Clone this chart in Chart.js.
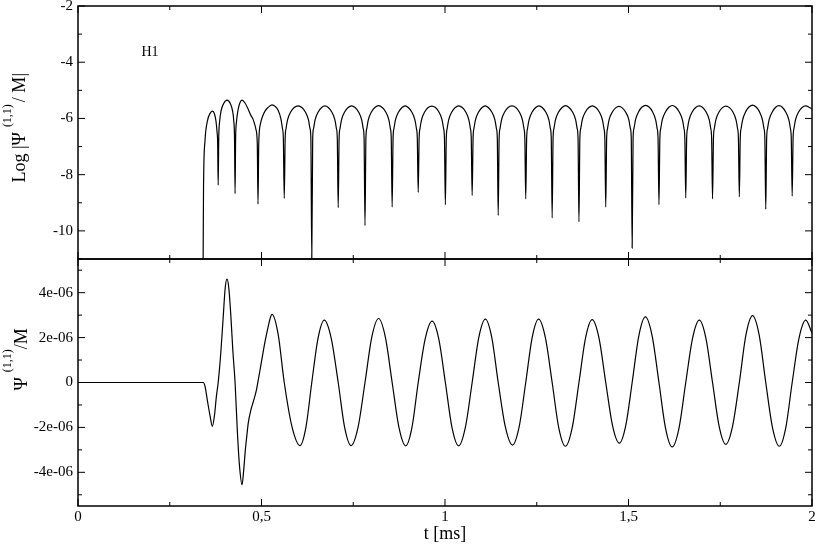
<!DOCTYPE html>
<html><head><meta charset="utf-8">
<script src="https://cdn.jsdelivr.net/npm/chart.js@4.4.1/dist/chart.umd.min.js"></script>
<style>html,body{margin:0;padding:0;background:#fff;}#wrap{width:817px;height:545px;}</style>
</head><body><div id="wrap"><canvas id="c" width="817" height="545"></canvas></div>
<script>
// ---------- data ----------
const xTickValues = [0, 0.5, 1, 1.5, 2];
const xTickLabels = ['0', '0,5', '1', '1,5', '2'];
const xMinorTicks = [0.25, 0.75, 1.25, 1.75];

const logTickValues = [-10, -8, -6, -4, -2];
const logTickLabels = ['-10', '-8', '-6', '-4', '-2'];
const logMinorTicks = [-11, -9, -7, -5, -3];

const psiTickValues = [-4e-6, -2e-6, 0, 2e-6, 4e-6];
const psiTickLabels = ['-4e-06', '-2e-06', '0', '2e-06', '4e-06'];
const psiMinorTicks = [-5e-6, -3e-6, -1e-6, 1e-6, 3e-6, 5e-6];

const panelLabel = 'H1';
const panelLabelAt = [0.196, -3.66];

// top panel: [t (ms), log10 |Psi/M|]
const logCurve = [
 [0.341,-11],[0.342,-8.5],[0.346,-6.8],[0.353,-6.07],[0.360,-5.82],[0.366,-5.74],[0.372,-5.84],[0.376,-6.1],[0.379,-6.5],[0.3805,-6.85],[0.382,-8.37],
 [0.3835,-6.7],[0.386,-6.1],[0.390,-5.72],[0.397,-5.47],[0.406,-5.35],[0.415,-5.47],[0.421,-5.72],[0.4245,-6.1],[0.4265,-6.7],[0.428,-8.67],
 [0.4295,-6.7],[0.432,-6.1],[0.436,-5.7],[0.441,-5.45],[0.447,-5.35],[0.455,-5.45],[0.464,-5.68],[0.4715,-5.9],[0.4777,-6.05],[0.485,-6.4],[0.4885,-6.9],[0.4905,-9.05],
 [0.4925,-6.9],[0.497,-6.2],[0.503,-5.92],[0.510,-5.73],[0.517,-5.62],[0.5286,-5.52],[0.538,-5.58],[0.545,-5.7],[0.553,-6.02],[0.557,-6.35],[0.5595,-6.7],[0.562,-8.84],
 [0.5645,-6.7],[0.567,-6.35],[0.571,-6.05],[0.580,-5.76],[0.589,-5.61],[0.600,-5.55],[0.610,-5.61],[0.619,-5.76],[0.628,-6.05],[0.632,-6.35],[0.6345,-6.7],[0.637,-11],
 [0.6395,-6.7],[0.642,-6.35],[0.646,-6.05],[0.655,-5.76],[0.664,-5.61],[0.673,-5.555],[0.682,-5.61],[0.691,-5.76],[0.700,-6.05],[0.704,-6.35],[0.7065,-6.7],[0.709,-9.17],
 [0.7115,-6.7],[0.714,-6.35],[0.718,-6.05],[0.727,-5.76],[0.736,-5.61],[0.7455,-5.55],[0.755,-5.61],[0.764,-5.76],[0.773,-6.05],[0.777,-6.35],[0.7795,-6.7],[0.782,-9.81],
 [0.7845,-6.7],[0.787,-6.35],[0.791,-6.05],[0.800,-5.76],[0.809,-5.61],[0.819,-5.545],[0.829,-5.61],[0.838,-5.76],[0.847,-6.05],[0.851,-6.35],[0.8535,-6.7],[0.856,-9.15],
 [0.8585,-6.7],[0.861,-6.35],[0.865,-6.05],[0.874,-5.76],[0.883,-5.61],[0.8915,-5.55],[0.900,-5.61],[0.909,-5.76],[0.918,-6.05],[0.922,-6.35],[0.9245,-6.7],[0.927,-8.63],
 [0.9295,-6.7],[0.932,-6.35],[0.936,-6.05],[0.945,-5.76],[0.954,-5.61],[0.964,-5.56],[0.974,-5.61],[0.983,-5.76],[0.992,-6.05],[0.996,-6.35],[0.9985,-6.7],[1.001,-9.07],
 [1.0035,-6.7],[1.006,-6.35],[1.010,-6.05],[1.019,-5.76],[1.028,-5.61],[1.0375,-5.55],[1.047,-5.61],[1.056,-5.76],[1.065,-6.05],[1.069,-6.35],[1.0715,-6.7],[1.074,-8.74],
 [1.0765,-6.7],[1.079,-6.35],[1.083,-6.05],[1.092,-5.76],[1.101,-5.61],[1.1095,-5.55],[1.118,-5.61],[1.127,-5.76],[1.136,-6.05],[1.140,-6.35],[1.1425,-6.7],[1.145,-9.45],
 [1.1475,-6.7],[1.150,-6.35],[1.154,-6.05],[1.163,-5.76],[1.172,-5.61],[1.1825,-5.555],[1.193,-5.61],[1.202,-5.76],[1.211,-6.05],[1.215,-6.35],[1.2175,-6.7],[1.220,-8.86],
 [1.2225,-6.7],[1.225,-6.35],[1.229,-6.05],[1.238,-5.76],[1.247,-5.61],[1.256,-5.55],[1.265,-5.61],[1.274,-5.76],[1.283,-6.05],[1.287,-6.35],[1.2895,-6.7],[1.292,-9.54],
 [1.2945,-6.7],[1.297,-6.35],[1.301,-6.05],[1.310,-5.76],[1.319,-5.61],[1.3285,-5.545],[1.338,-5.61],[1.347,-5.76],[1.356,-6.05],[1.360,-6.35],[1.3625,-6.7],[1.365,-9.68],
 [1.3675,-6.7],[1.370,-6.35],[1.374,-6.05],[1.383,-5.76],[1.392,-5.61],[1.4015,-5.55],[1.411,-5.61],[1.420,-5.76],[1.429,-6.05],[1.433,-6.35],[1.4355,-6.7],[1.438,-9.15],
 [1.4405,-6.7],[1.443,-6.35],[1.447,-6.05],[1.456,-5.77],[1.465,-5.625],[1.474,-5.57],[1.483,-5.625],[1.492,-5.77],[1.501,-6.05],[1.505,-6.35],[1.5075,-6.7],[1.510,-10.61],
 [1.5125,-6.7],[1.515,-6.35],[1.519,-6.05],[1.528,-5.75],[1.537,-5.595],[1.5465,-5.535],[1.556,-5.595],[1.565,-5.75],[1.574,-6.05],[1.578,-6.35],[1.5805,-6.7],[1.583,-9.07],
 [1.5855,-6.7],[1.588,-6.35],[1.592,-6.05],[1.601,-5.76],[1.610,-5.6],[1.6195,-5.54],[1.629,-5.6],[1.638,-5.76],[1.647,-6.05],[1.651,-6.35],[1.6535,-6.7],[1.656,-8.83],
 [1.6585,-6.7],[1.661,-6.35],[1.665,-6.05],[1.674,-5.76],[1.683,-5.61],[1.6925,-5.555],[1.702,-5.61],[1.711,-5.76],[1.720,-6.05],[1.724,-6.35],[1.7265,-6.7],[1.729,-8.86],
 [1.7315,-6.7],[1.734,-6.35],[1.738,-6.05],[1.747,-5.76],[1.756,-5.615],[1.7655,-5.56],[1.775,-5.615],[1.784,-5.76],[1.793,-6.05],[1.797,-6.35],[1.7995,-6.7],[1.802,-8.79],
 [1.8045,-6.7],[1.807,-6.35],[1.811,-6.05],[1.820,-5.74],[1.829,-5.585],[1.838,-5.525],[1.847,-5.585],[1.856,-5.74],[1.865,-6.05],[1.869,-6.35],[1.8715,-6.7],[1.874,-9.23],
 [1.8765,-6.7],[1.879,-6.35],[1.883,-6.05],[1.892,-5.76],[1.901,-5.6],[1.910,-5.545],[1.919,-5.6],[1.928,-5.76],[1.937,-6.05],[1.941,-6.35],[1.9435,-6.7],[1.946,-8.76],
 [1.9485,-6.7],[1.951,-6.35],[1.955,-6.05],[1.964,-5.76],[1.973,-5.61],[1.983,-5.555],[1.992,-5.6],[2.0,-5.66]
];

// bottom panel: [t (ms), Psi/M]
const psiCurve = [
 [0,0],[0.341,0],[0.346,-0.16e-6],[0.353,-0.85e-6],[0.360,-1.5e-6],[0.366,-1.95e-6],[0.372,-1.45e-6],[0.377,-0.63e-6],[0.382,0],
 [0.389,1.3e-6],[0.396,3.0e-6],[0.401,4.2e-6],[0.406,4.6e-6],[0.411,4.2e-6],[0.416,3.1e-6],[0.422,1.4e-6],[0.428,0],
 [0.434,-2.1e-6],[0.440,-3.7e-6],[0.447,-4.55e-6],[0.4515,-3.9e-6],[0.456,-3.0e-6],[0.4605,-2.3e-6],[0.464,-1.8e-6],[0.4715,-1.2e-6],[0.4777,-0.85e-6],[0.485,-0.42e-6],[0.4905,0.05e-6],
 [0.497,0.65e-6],[0.503,1.22e-6],[0.510,1.85e-6],[0.517,2.4e-6],[0.5235,2.85e-6],[0.5286,3.03e-6],
 [0.5453,2.15e-6],[0.562,0],[0.5835,-2.0e-6],[0.605,-2.81e-6],[0.621,-2.0e-6],[0.637,0],
 [0.654,1.97e-6],[0.671,2.78e-6],[0.690,1.97e-6],[0.709,0],[0.7265,-2.0e-6],[0.744,-2.81e-6],[0.763,-2.0e-6],[0.782,0],
 [0.8005,2.02e-6],[0.819,2.85e-6],[0.8375,2.02e-6],[0.856,0],[0.8745,-2.0e-6],[0.893,-2.82e-6],[0.910,-2.0e-6],[0.927,0],
 [0.946,1.94e-6],[0.965,2.73e-6],[0.983,1.94e-6],[1.001,0],[1.019,-2.0e-6],[1.037,-2.82e-6],[1.0555,-2.0e-6],[1.074,0],
 [1.092,2.0e-6],[1.110,2.82e-6],[1.1275,2.0e-6],[1.145,0],[1.1645,-1.98e-6],[1.184,-2.79e-6],[1.202,-1.98e-6],[1.220,0],
 [1.2375,2.0e-6],[1.255,2.82e-6],[1.2735,2.0e-6],[1.292,0],[1.310,-2.02e-6],[1.328,-2.84e-6],[1.3465,-2.02e-6],[1.365,0],
 [1.383,1.99e-6],[1.401,2.80e-6],[1.4195,1.99e-6],[1.438,0],[1.4565,-1.92e-6],[1.475,-2.70e-6],[1.4925,-1.92e-6],[1.510,0],
 [1.528,2.07e-6],[1.546,2.92e-6],[1.5645,2.07e-6],[1.583,0],[1.601,-2.04e-6],[1.619,-2.87e-6],[1.6375,-2.04e-6],[1.656,0],
 [1.6745,1.97e-6],[1.693,2.78e-6],[1.711,1.97e-6],[1.729,0],[1.747,-1.95e-6],[1.765,-2.75e-6],[1.7835,-1.95e-6],[1.802,0],
 [1.820,2.12e-6],[1.838,2.98e-6],[1.856,2.12e-6],[1.874,0],[1.8925,-2.02e-6],[1.911,-2.84e-6],[1.9285,-2.02e-6],[1.946,0],
 [1.9645,1.97e-6],[1.983,2.78e-6],[2.0,2.2e-6]
];

// ---------- drawing ----------
const FONT = "'Liberation Serif', 'Times New Roman', serif";
Chart.defaults.font.family = FONT;
Chart.defaults.color = '#000';

function drawRotated(ctx, x, y, parts) {
  ctx.save();
  ctx.translate(x, y);
  ctx.rotate(-Math.PI / 2);
  ctx.textAlign = 'left';
  ctx.textBaseline = 'alphabetic';
  ctx.fillStyle = '#000';
  let adv = 0;
  for (const p of parts) {
    ctx.font = p.size + 'px ' + FONT;
    adv += p.gap || 0;
    ctx.fillText(p.text, adv, -(p.raise || 0));
    adv += ctx.measureText(p.text).width;
  }
  ctx.restore();
}

const framePlugin = {
  id: 'frame',
  afterDraw(chart) {
    const {ctx, chartArea: ca, scales} = chart;
    const xs = scales.x;
    const MAJ = 7, MIN = 4;
    ctx.save();
    ctx.strokeStyle = '#000';
    const seg = (x1, y1, x2, y2) => { ctx.beginPath(); ctx.moveTo(x1, y1); ctx.lineTo(x2, y2); ctx.stroke(); };
    const panels = [
      [scales.yTop, logTickValues, logMinorTicks],
      [scales.yBot, psiTickValues, psiMinorTicks]
    ];
    for (const [ys, maj, min] of panels) {
      const top = ys.top, bot = ys.bottom;
      ctx.lineWidth = 1;
      xTickValues.forEach(v => { const p = xs.getPixelForValue(v); seg(p, bot, p, bot - MAJ); seg(p, top, p, top + MAJ); });
      xMinorTicks.forEach(v => { const p = xs.getPixelForValue(v); seg(p, bot, p, bot - MIN); seg(p, top, p, top + MIN); });
      maj.forEach(v => { const p = ys.getPixelForValue(v); seg(ca.left, p, ca.left + MAJ, p); seg(ca.right, p, ca.right - MAJ, p); });
      min.forEach(v => { const p = ys.getPixelForValue(v); seg(ca.left, p, ca.left + MIN, p); seg(ca.right, p, ca.right - MIN, p); });
      ctx.lineWidth = 1.5;
      ctx.strokeRect(ca.left, top, ca.right - ca.left, bot - top);
    }
    ctx.fillStyle = '#000';
    ctx.font = '14px ' + FONT;
    ctx.textAlign = 'center';
    ctx.textBaseline = 'middle';
    ctx.fillText(panelLabel, xs.getPixelForValue(panelLabelAt[0]), scales.yTop.getPixelForValue(panelLabelAt[1]));
    const cTop = (scales.yTop.top + scales.yTop.bottom) / 2;
    const cBot = (scales.yBot.top + scales.yBot.bottom) / 2;
    drawRotated(ctx, 25, cTop + 50, [
      {text: 'Log |\u03A8', size: 18},
      {text: '(1,1)', size: 12, raise: 14, gap: 5},
      {text: '/ M|', size: 18, gap: 2}
    ]);
    drawRotated(ctx, 27, cBot + 8, [
      {text: '\u03A8', size: 18},
      {text: '(1,1)', size: 12, raise: 16, gap: 5},
      {text: '/M', size: 18, gap: 0}
    ]);
    ctx.restore();
  }
};

const toPoints = arr => arr.map(p => ({x: p[0], y: p[1]}));

new Chart(document.getElementById('c'), {
  type: 'line',
  data: {
    datasets: [
      {data: toPoints(logCurve), yAxisID: 'yTop', borderColor: '#000', borderWidth: 1.2, pointRadius: 0, cubicInterpolationMode: 'monotone', fill: false},
      {data: toPoints(psiCurve), yAxisID: 'yBot', borderColor: '#000', borderWidth: 1.2, pointRadius: 0, cubicInterpolationMode: 'monotone', fill: false}
    ]
  },
  options: {
    responsive: false,
    devicePixelRatio: 1,
    animation: false,
    parsing: false,
    layout: {padding: {left: 0, right: 5, top: 6, bottom: 0}},
    plugins: {legend: {display: false}, tooltip: {enabled: false}},
    scales: {
      x: {
        type: 'linear', min: 0, max: 2, position: 'bottom',
        grid: {display: false, drawTicks: false}, border: {display: false},
        afterBuildTicks: s => { s.ticks = xTickValues.map(v => ({value: v})); },
        afterFit: s => { s.height = 39; s.paddingLeft = 0; s.paddingRight = 0; },
        ticks: {autoSkip: false, maxRotation: 0, padding: 2, font: {size: 15}, color: '#000',
                callback: (v, i) => xTickLabels[i]},
        title: {display: true, text: 't [ms]', font: {size: 18}, color: '#000', padding: {top: 0, bottom: 0}}
      },
      yBot: {
        type: 'linear', position: 'left', stack: 'panels', stackWeight: 247,
        min: -5.5e-6, max: 5.5e-6,
        grid: {display: false, drawTicks: false}, border: {display: false},
        afterBuildTicks: s => { s.ticks = psiTickValues.map(v => ({value: v})); },
        afterFit: s => { s.width = 78; s.paddingTop = 0; s.paddingBottom = 0; },
        ticks: {autoSkip: false, padding: 5, font: {size: 15}, color: '#000',
                callback: (v, i) => psiTickLabels[i]}
      },
      yTop: {
        type: 'linear', position: 'left', stack: 'panels', stackWeight: 253,
        min: -11, max: -2,
        grid: {display: false, drawTicks: false}, border: {display: false},
        afterBuildTicks: s => { s.ticks = logTickValues.map(v => ({value: v})); },
        afterFit: s => { s.width = 78; s.paddingTop = 0; s.paddingBottom = 0; },
        ticks: {autoSkip: false, padding: 5, font: {size: 15}, color: '#000',
                callback: (v, i) => logTickLabels[i]}
      }
    }
  },
  plugins: [framePlugin]
});
</script>
</body></html>
